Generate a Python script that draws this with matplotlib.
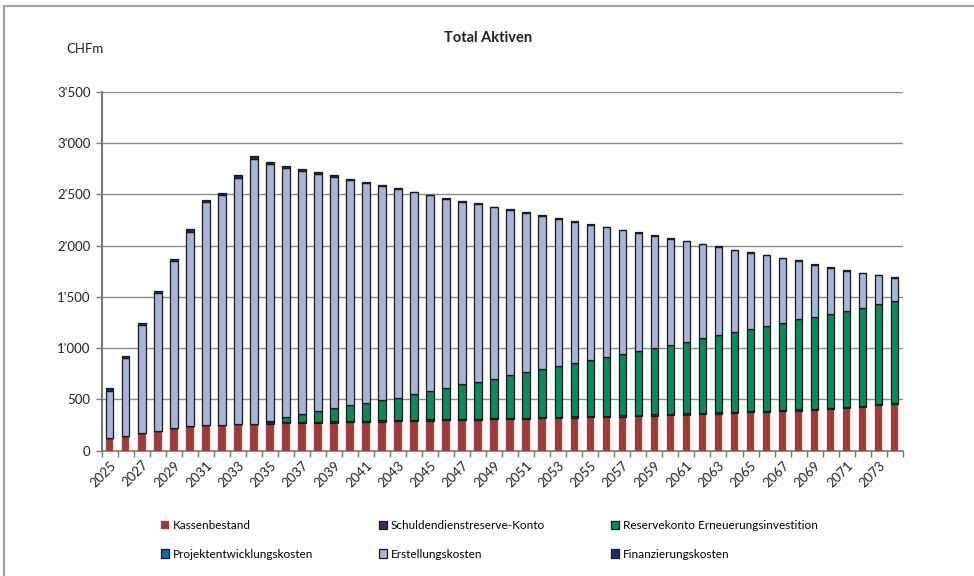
import matplotlib
matplotlib.use("Agg")
import matplotlib.pyplot as plt
import numpy as np
from matplotlib.lines import Line2D

#
# DATA (CHFm)
#
years = list(range(2025, 2075))
kassenbestand = [120, 140, 168, 192, 218, 235, 248, 252, 255, 258,
                 262, 265, 268, 270, 272, 275, 278, 282, 285, 288,
                 291, 294, 297, 300, 303, 306, 310, 313, 317, 320,
                 323, 327, 331, 335, 340, 345, 350, 355, 360, 366,
                 372, 378, 384, 390, 396, 403, 415, 427, 440, 452]
schuldendienst = [0, 0, 0, 0, 0, 0, 0, 0, 0, 0,
                  12, 12, 12, 12, 12, 12, 12, 12, 12, 12,
                  12, 12, 12, 12, 12, 12, 12, 12, 12, 12,
                  12, 12, 12, 12, 12, 12, 12, 12, 12, 12,
                  12, 12, 12, 12, 12, 12, 12, 12, 12, 12]
reservekonto = [0, 0, 0, 0, 0, 0, 0, 0, 0, 0,
                10, 46, 76, 106, 127, 153, 176, 198, 218, 251,
                280, 306, 336, 359, 385, 418, 443, 467, 492, 518,
                547, 575, 601, 626, 647, 672, 699, 727, 754, 780,
                804, 827, 850, 877, 896, 913, 933, 953, 976, 996]
projektentwicklung = [0] * 50
erstellung = [461, 759, 1053, 1341, 1631, 1902, 2176, 2240, 2409, 2588,
              2514, 2438, 2373, 2314, 2264, 2202, 2149, 2093, 2036, 1968,
              1907, 1845, 1783, 1734, 1673, 1611, 1552, 1499, 1441, 1383,
              1321, 1266, 1207, 1151, 1096, 1040, 982, 920, 862, 798,
              744, 690, 632, 572, 510, 456, 397, 339, 284, 226]
finanzierung = [25, 25, 25, 25, 25, 25, 25, 25, 25, 25,
                22, 20, 18, 16, 14, 12, 10, 8, 8, 8,
                8, 8, 8, 8, 8, 8, 8, 8, 8, 8,
                6, 6, 6, 6, 6, 6, 6, 6, 6, 6,
                6, 6, 6, 6, 6, 6, 6, 6, 6, 6]

series = [
    ("Kassenbestand", kassenbestand, "#9e3a3c", "#b85a5c"),
    ("Schuldendienstreserve-Konto", schuldendienst, "#4b2466", "#1a1a1a"),
    ("Reservekonto Erneuerungsinvestition", reservekonto, "#0e8a5a", "#1a1a1a"),
    ("Projektentwicklungskosten", projektentwicklung, "#1565b0", "#1a1a1a"),
    ("Erstellungskosten", erstellung, "#a6b4dc", "#1a1a1a"),
    ("Finanzierungskosten", finanzierung, "#1f2a6b", "#1a1a1a"),
]
y_ticks = [0, 500, 1000, 1500, 2000, 2500, 3000, 3500]
y_labels = ["0", "500", "1'000", "1'500", "2'000", "2'500", "3'000", "3'500"]

plt.rcParams['font.family'] = ['Lato', 'DejaVu Sans']

fig = plt.figure(figsize=(9.74, 5.76), dpi=100)
ax = fig.add_axes([101.7 / 974, 1 - 450.5 / 576, 801 / 974, 358.5 / 576])

x = np.arange(len(years))
bottom = np.zeros(len(years))
handles = {}
for name, vals, col, edge in series:
    vals = np.array(vals, dtype=float)
    b = ax.bar(x, vals, width=0.47, bottom=bottom, color=col,
               edgecolor=edge, linewidth=0.9 if edge == "#1a1a1a" else 0.3,
               label=name, zorder=3)
    handles[name] = b
    bottom += vals

ax.set_xlim(-0.5, len(years) - 0.5)
ax.set_ylim(0, 3500)
ax.set_yticks(y_ticks)
ax.set_yticklabels(y_labels, fontsize=9.5, color="#222222")
ax.yaxis.grid(True, color="#8c8c8c", linewidth=1.0, zorder=0)
ax.tick_params(axis="y", length=4, width=1, color="#6e7b7b", pad=4)

ax.set_xticks(x[::2])
ax.set_xticklabels([str(y) for y in years[::2]], rotation=45,
                   ha="right", va="top", rotation_mode="anchor",
                   fontsize=9.5, color="#222222")
ax.set_xticks(np.arange(-0.5, len(years), 1), minor=True)
ax.tick_params(axis="x", which="major", length=0, pad=6)
ax.tick_params(axis="x", which="minor", length=4, width=1, color="#6e7b7b")

for s in ["top", "right"]:
    ax.spines[s].set_visible(False)
ax.spines["left"].set_color("#6e7b7b")
ax.spines["left"].set_linewidth(1.5)
ax.spines["bottom"].set_color("#6e7b7b")
ax.spines["bottom"].set_linewidth(1.2)

fig.text(488 / 974, 1 - 38 / 576, "Total Aktiven", ha="center", va="center",
         fontsize=10.5, fontweight="bold", color="#222222")
fig.text(66 / 974, 1 - 49 / 576, "CHFm", ha="left", va="center",
         fontsize=9.5, color="#222222")

order = ["Kassenbestand", "Projektentwicklungskosten",
         "Schuldendienstreserve-Konto", "Erstellungskosten",
         "Reservekonto Erneuerungsinvestition", "Finanzierungskosten"]
leg = fig.legend([handles[n] for n in order], order, ncol=3,
                 loc="center left", bbox_to_anchor=(150 / 974, 1 - 540 / 576),
                 frameon=False, fontsize=8.5, handlelength=0.7, handleheight=0.7,
                 handletextpad=0.3, columnspacing=5.6, labelspacing=1.45)

# outer frame of the chart
fig.add_artist(Line2D([4 / 974, 4 / 974], [0, 1 - 6 / 576], color="#a0a0a0",
                      linewidth=1.5, transform=fig.transFigure))
fig.add_artist(Line2D([4 / 974, 1], [1 - 6 / 576, 1 - 6 / 576], color="#a0a0a0",
                      linewidth=1.5, transform=fig.transFigure))

fig.savefig("out.png", dpi=100)
